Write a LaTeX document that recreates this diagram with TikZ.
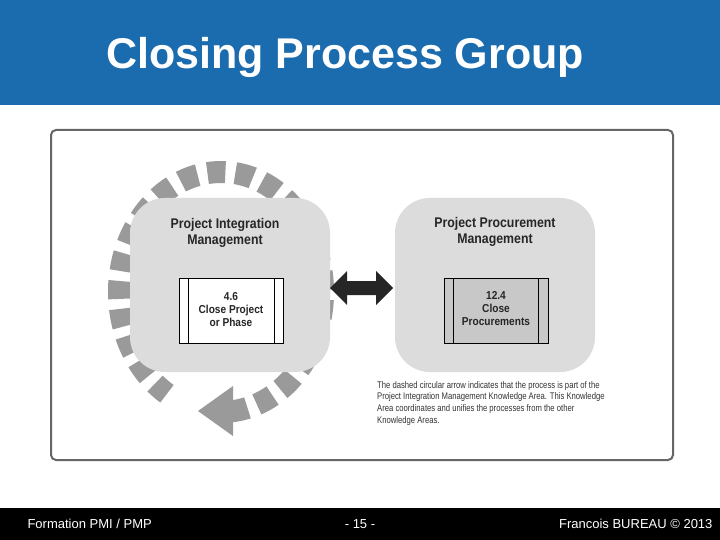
\documentclass[tikz,border=0pt]{standalone}
\usepackage{fontspec}
\setmainfont{Liberation Sans}
\newfontfamily\narrowf[FakeStretch=0.88]{Liberation Sans}
\newfontfamily\capf[FakeStretch=0.8]{Liberation Sans}
\usetikzlibrary{arrows.meta}
\definecolor{hdr}{HTML}{1B6CAE}
\definecolor{boxg}{HTML}{DCDCDC}
\definecolor{dashg}{HTML}{9A9A9A}
\definecolor{procg}{HTML}{C8C8C8}
\begin{document}
\begin{tikzpicture}[x=1pt,y=-1pt,
  area/.style={fill=boxg,rounded corners=35pt},
  proc/.style={draw=black,line width=0.8pt},
  lbl/.style={font=\narrowf\bfseries\fontsize{14}{16}\selectfont,align=center,text=black!85},
  ptxt/.style={font=\narrowf\bfseries\fontsize{11.5}{13}\selectfont,align=center,text=black!85},
  foot/.style={font=\fontsize{13}{15}\selectfont,text=white}]
\useasboundingbox (0,0) rectangle (720,540);
\fill[white] (0,0) rectangle (720,540);
\fill[hdr] (0,0) rectangle (720,105);
\node[font=\bfseries\fontsize{43}{48}\selectfont,text=white] (title) at (345,57) {Closing Process Group};
\fill[black] (0,508) rectangle (720,540);
\node[foot,anchor=west] (f1) at (24,524) {Formation PMI / PMP};
\node[foot] (f2) at (360,524) {- 15 -};
\node[foot,anchor=east] (f3) at (716,524) {Francois BUREAU © 2013};
% frame
\draw[black!60,line width=2pt,fill=white,rounded corners=5pt] (51,130) rectangle (673,460);
% dashed circle
\draw[dashg,line width=22pt,dash pattern=on 18pt off 10pt] (221,292) ++(85:102 and 120) arc[start angle=85,end angle=-238,x radius=102,y radius=120];
\fill[dashg] (198,411) -- (233,386) -- (233,436) -- cycle;
% areas
\fill[area] (130,198) rectangle (330,372);
\fill[area] (395,198) rectangle (595,372);
\node[lbl] (a1) at (225,233) {Project Integration\\Management};
\node[lbl] (a2) at (495,232) {Project Procurement\\Management};
% processes
\draw[proc,fill=white] (179,278) rectangle (283,343);
\draw[proc] (188,278) -- (188,343) (274,278) -- (274,343);
\node[ptxt] (p1) at (231,310) {4.6\\Close Project\\or Phase};
\draw[proc,fill=procg] (444,278) rectangle (548,343);
\draw[proc] (453,278) -- (453,343) (538,278) -- (538,343);
\node[ptxt] (p2) at (496,309) {12.4\\Close\\Procurements};
% double arrow
\fill[black!85] (330,288) -- (347,271) -- (347,281) -- (376,281) -- (376,271) -- (393,288) -- (376,305) -- (376,295) -- (347,295) -- (347,305) -- cycle;
% caption
\node[anchor=north west,inner sep=0pt,align=left,font=\capf\fontsize{9.6}{11.8}\selectfont,text=black!80] (cap) at (377,381) {The dashed circular arrow indicates that the process is part of the\\Project Integration Management Knowledge Area. This Knowledge\\Area coordinates and unifies the processes from the other\\Knowledge Areas.};
\end{tikzpicture}
\end{document}
